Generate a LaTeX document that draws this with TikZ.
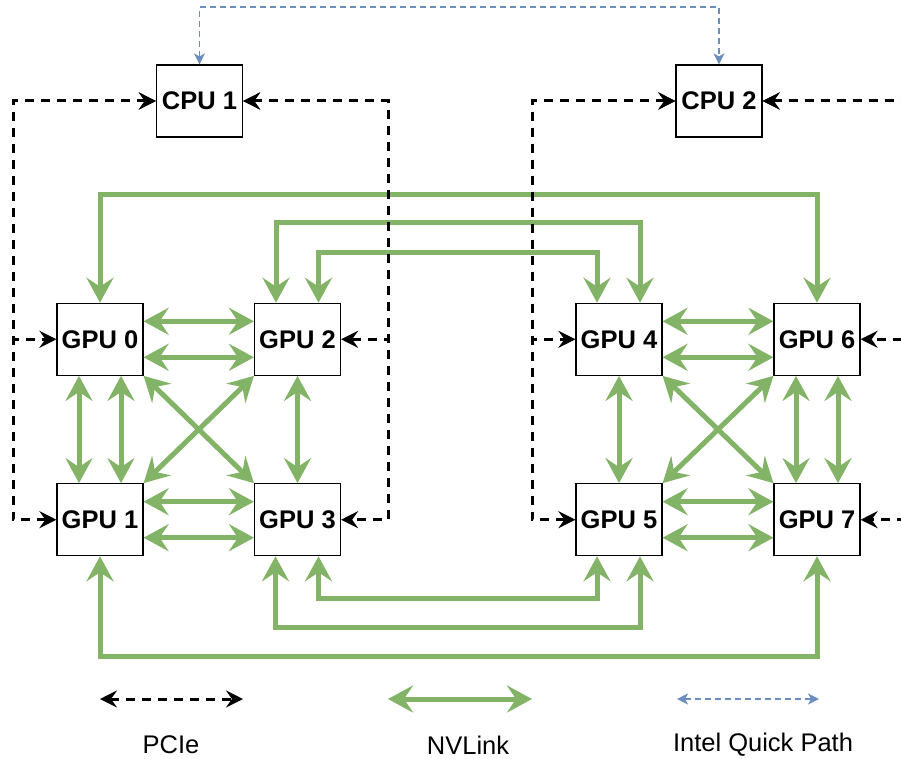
\documentclass[tikz,border=0pt]{standalone}
\usepackage{fontspec}
\setmainfont{Liberation Sans}
\usetikzlibrary{arrows.meta}
\definecolor{nvgreen}{HTML}{82B366}
\definecolor{qpiblue}{HTML}{6C8EBF}
\tikzset{
  box/.style={draw=black, line width=1.2pt, fill=white, minimum width=86pt, minimum height=72pt, inner sep=0pt, font=\bfseries\fontsize{25.5}{30}\selectfont},
  nvtip/.tip={Stealth[length=25pt,width=27pt,inset=9pt]},
  pctip/.tip={Stealth[length=17pt,width=17pt,inset=6pt]},
  qptip/.tip={Stealth[length=11pt,width=11pt,inset=3pt]},
  nv/.style={draw=nvgreen, line width=5pt, nvtip-nvtip},
  pcie/.style={draw=black, line width=3pt, dash pattern=on 9pt off 7pt, pctip-pctip},
  qpi/.style={draw=qpiblue, line width=1.5pt, dash pattern=on 6pt off 4pt, qptip-qptip},
  legtext/.style={font=\fontsize{25.5}{30}\selectfont, inner sep=0pt}
}
\begin{document}
\begin{tikzpicture}[x=1pt,y=-1pt]
\clip (0,0) rectangle (901,759);
\fill[white] (0,0) rectangle (901,759);
% nodes
\node[box] (C1) at (199.5,101) {CPU 1};
\node[box] (C2) at (719,101) {CPU 2};
\node[box] (G0) at (100,339.3) {GPU 0};
\node[box] (G2) at (297.5,339.3) {GPU 2};
\node[box] (G1) at (100,519.7) {GPU 1};
\node[box] (G3) at (297.5,519.7) {GPU 3};
\node[box] (G4) at (619,339.3) {GPU 4};
\node[box] (G6) at (817,339.3) {GPU 6};
\node[box] (G5) at (619,519.7) {GPU 5};
\node[box] (G7) at (817,519.7) {GPU 7};
% NVLink: local
\foreach \a/\b in {G0/G2,G1/G3,G4/G6,G5/G7}{
  \draw[nv] ([yshift=18pt]\a.east) -- ([yshift=18pt]\b.west);
  \draw[nv] ([yshift=-18pt]\a.east) -- ([yshift=-18pt]\b.west);
}
\foreach \a/\b in {G0/G1,G6/G7}{
  \draw[nv] ([xshift=-21pt]\a.south) -- ([xshift=-21pt]\b.north);
  \draw[nv] ([xshift=21pt]\a.south) -- ([xshift=21pt]\b.north);
}
\draw[nv] (G2.south) -- (G3.north);
\draw[nv] (G4.south) -- (G5.north);
\draw[nv] (G0.south east) -- (G3.north west);
\draw[nv] (G2.south west) -- (G1.north east);
\draw[nv] (G4.south east) -- (G7.north west);
\draw[nv] (G6.south west) -- (G5.north east);
% NVLink: long routes
\draw[nv] (G0.north) -- (G0.north |- 0,195) -- (G6.north |- 0,195) -- (G6.north);
\draw[nv] ([xshift=-21.5pt]G2.north) -- ([xshift=-21.5pt]G2.north |- 0,223) -- ([xshift=21pt]G4.north |- 0,223) -- ([xshift=21pt]G4.north);
\draw[nv] ([xshift=21pt]G2.north) -- ([xshift=21pt]G2.north |- 0,252) -- ([xshift=-22pt]G4.north |- 0,252) -- ([xshift=-22pt]G4.north);
\draw[nv] ([xshift=21pt]G3.south) -- ([xshift=21pt]G3.south |- 0,598) -- ([xshift=-22pt]G5.south |- 0,598) -- ([xshift=-22pt]G5.south);
\draw[nv] ([xshift=-22pt]G3.south) -- ([xshift=-22pt]G3.south |- 0,627) -- ([xshift=21pt]G5.south |- 0,627) -- ([xshift=21pt]G5.south);
\draw[nv] (G1.south) -- (G1.south |- 0,656) -- (G7.south |- 0,656) -- (G7.south);
% PCIe
\draw[pcie] (C1.west) -- (C1.west -| 13,0) -- (G0.west -| 13,0) -- (G0.west);
\draw[pcie] (C1.west) -- (C1.west -| 13,0) -- (G1.west -| 13,0) -- (G1.west);
\draw[pcie] (C1.east) -- (C1.east -| 388,0) -- (G2.east -| 388,0) -- (G2.east);
\draw[pcie] (C1.east) -- (C1.east -| 388,0) -- (G3.east -| 388,0) -- (G3.east);
\draw[pcie] (C2.west) -- (C2.west -| 532,0) -- (G4.west -| 532,0) -- (G4.west);
\draw[pcie] (C2.west) -- (C2.west -| 532,0) -- (G5.west -| 532,0) -- (G5.west);
\draw[pcie] (C2.east) -- (C2.east -| 910,0) -- (G6.east -| 910,0) -- (G6.east);
\draw[pcie] (C2.east) -- (C2.east -| 910,0) -- (G7.east -| 910,0) -- (G7.east);
% QPI
\draw[qpi] (C1.north) -- (C1.north |- 0,7) -- (C2.north |- 0,7) -- (C2.north);
% legend
\coordinate (pa) at (100,699);
\coordinate (pb) at (243,699);
\coordinate (na) at (388,699);
\coordinate (nb) at (532,699);
\coordinate (qa) at (677,699);
\coordinate (qb) at (819,699);
\draw[pcie] (pa) -- (pb);
\draw[nv] (na) -- (nb);
\draw[qpi] (qa) -- (qb);
\node[legtext] (lp) at (171,745) {PCIe};
\node[legtext] (ln) at (468,745) {NVLink};
\node[legtext] (lq) at (763,745) {Intel Quick Path};
\end{tikzpicture}
\end{document}
